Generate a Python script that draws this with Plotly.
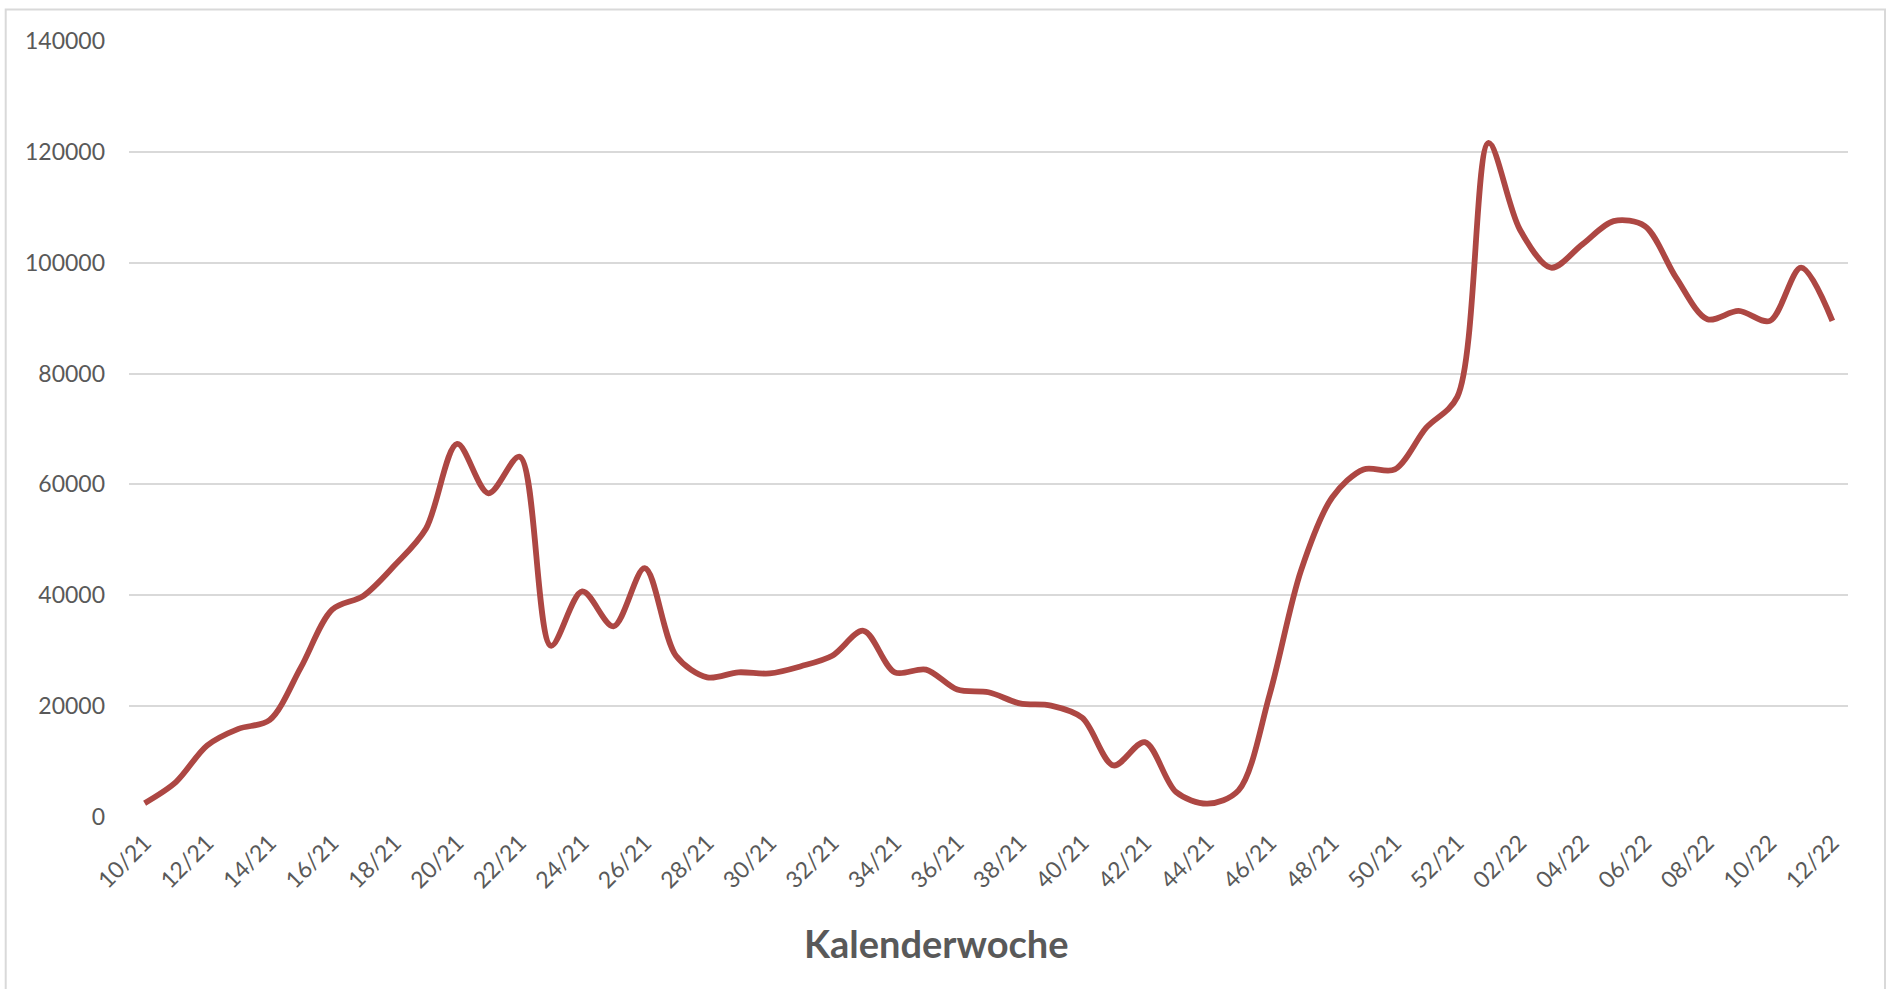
import plotly.graph_objects as go

# Categories: calendar weeks 10/21 .. 52/21, 01/22 .. 12/22
weeks = [f"{w:02d}/21" for w in range(10, 53)] + [f"{w:02d}/22" for w in range(1, 13)]

values = [
    2500, 6300, 12900, 15900, 17500, 27000, 37400, 39900, 45400, 52000,
    67300, 58400, 65000, 30900, 40700, 34400, 44900, 29100, 25200, 26100,
    25900, 27200, 29100, 33600, 26100, 26600, 23000, 22500, 20500, 20100,
    17900, 9300, 13500, 4500, 2400, 4800, 22200, 44500, 57700, 62700,
    62700, 70200, 75800, 121600, 106000, 99100, 103300, 107500, 106600, 97300,
    89800, 91300, 89500, 99100, 89500,
]

y_ticks = [0, 20000, 40000, 60000, 80000, 100000, 120000, 140000]
x_tick_labels = weeks[::2]

W, H = 1889, 989
ML, MR, MT, MB = 129, 41, 41, 172
PW, PH = W - ML - MR, H - MT - MB

def px_x(p):
    return (p - ML) / PW

def px_y(p):
    return (H - MB - p) / PH

fig = go.Figure()
fig.add_trace(go.Scatter(
    x=list(range(len(weeks))),
    y=values,
    mode="lines",
    line=dict(color="#AD4743", width=5.8, shape="spline", smoothing=0.9),
    hoverinfo="x+y",
))

fig.update_layout(
    width=W, height=H,
    margin=dict(l=ML, r=MR, t=MT, b=MB),
    paper_bgcolor="white",
    plot_bgcolor="white",
    showlegend=False,
    font=dict(family="Lato, 'Open Sans', sans-serif", color="#595959"),
    xaxis=dict(
        range=[-0.5, len(weeks) - 0.5],
        tickmode="array",
        tickvals=list(range(0, len(weeks), 2)),
        ticktext=x_tick_labels,
        tickangle=-45,
        tickfont=dict(size=23, color="#595959"),
        showgrid=False,
        zeroline=False,
        showline=False,
        ticks="",
        ticklabelstandoff=7,
    ),
    yaxis=dict(
        range=[0, 140000],
        tickmode="array",
        tickvals=y_ticks,
        ticktext=[str(v) for v in y_ticks],
        tickfont=dict(size=23, color="#595959"),
        showgrid=True,
        gridcolor="#D9D9D9",
        gridwidth=1.8,
        zeroline=False,
        showline=False,
        ticks="",
        ticklabelstandoff=23,
    ),
    shapes=[dict(
        type="rect", xref="paper", yref="paper",
        x0=px_x(5.7), x1=px_x(1885), y0=px_y(1010), y1=px_y(9.5),
        line=dict(color="#D9D9D9", width=2), fillcolor="rgba(0,0,0,0)",
        layer="below",
    )],
    annotations=[dict(
        text="<b>Kalenderwoche</b>",
        xref="paper", yref="paper",
        x=px_x(936), y=px_y(943),
        xanchor="center", yanchor="middle",
        showarrow=False,
        font=dict(size=38, color="#595959", family="Lato, 'Open Sans', sans-serif"),
    )],
)

fig.write_html(
    "out.html",
    config={"displayModeBar": False},
    post_script="document.body.style.margin='0';document.body.style.padding='0';",
)
